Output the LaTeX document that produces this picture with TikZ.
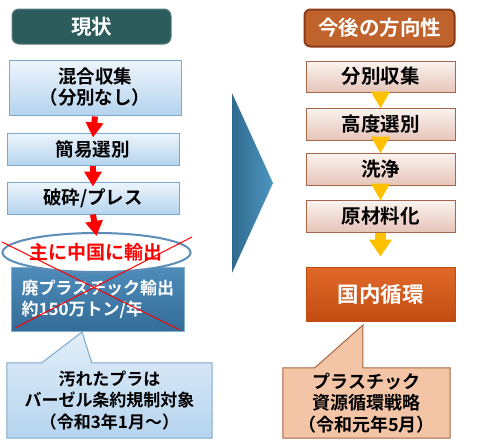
\documentclass[tikz,border=0pt]{standalone}
\usepackage{fontspec}
\setmainfont{Noto Sans CJK JP}
\newfontfamily\bcjk{Noto Sans CJK JP Bold}
\usetikzlibrary{shapes.geometric,arrows.meta,calc,backgrounds}
\definecolor{teal1}{HTML}{2D5C5C}
\definecolor{lbtop}{HTML}{EEF5FC}
\definecolor{lbbot}{HTML}{B5D4EE}
\definecolor{lbbord}{HTML}{7DA8CE}
\definecolor{sbtop}{HTML}{4F8CBA}
\definecolor{sbbot}{HTML}{336C98}
\definecolor{elbord}{HTML}{5B8DB6}
\definecolor{chevL}{HTML}{2F6A8E}
\definecolor{chevR}{HTML}{4E96C2}
\definecolor{ortitle}{HTML}{C0622B}
\definecolor{orbord}{HTML}{8B3B19}
\definecolor{pktop}{HTML}{FBF3F0}
\definecolor{pkbot}{HTML}{E6C5B8}
\definecolor{pkbord}{HTML}{A5664C}
\definecolor{gold}{HTML}{FFC000}
\definecolor{dctop}{HTML}{E0692A}
\definecolor{dcbot}{HTML}{C24C12}
\definecolor{peach}{HTML}{F4C4A6}
\definecolor{peachbord}{HTML}{A8643E}
\definecolor{redc}{HTML}{FF0000}
\tikzset{
  txt/.style={font=\fontsize{18.5}{21}\selectfont\bcjk, align=center, inner sep=0pt},
  ttl/.style={txt, font=\fontsize{20.5}{22}\selectfont\bcjk, text=white, rounded corners=7pt},
  bluebox/.style={txt, draw=lbbord, line width=1pt, top color=lbtop, bottom color=lbbot},
  pinkbox/.style={txt, font=\fontsize{19.5}{22}\selectfont\bcjk, draw=pkbord, line width=1pt, top color=pktop, bottom color=pkbot},
  redarrow/.style={redc, line width=6pt, -{Triangle[width=17pt,length=15pt]}},
  goldarrow/.style={gold, line width=8pt, -{Triangle[width=18pt,length=17pt]}},
}
\begin{document}
\begin{tikzpicture}[x=1pt,y=-1pt]
\useasboundingbox (0,0) rectangle (480,447);
% titles
\node[ttl, fill=teal1, draw=teal1!80!white, line width=1pt, minimum width=159pt, minimum height=35pt] (lt) at (91.5,26.5) {現状};
\node[ttl, fill=ortitle, draw=orbord, line width=2pt, minimum width=150pt, minimum height=37pt, rounded corners=6pt] (rt) at (379.5,28) {今後の方向性};
% left flow
\node[bluebox, minimum width=172pt, minimum height=55pt] (b1) at (95,87.5) {混合収集\\（分別なし）};
\node[bluebox, minimum width=172pt, minimum height=32pt] (b2) at (93,149) {簡易選別};
\node[bluebox, minimum width=172pt, minimum height=32pt] (b3) at (93,198) {破砕/プレス};
\node[txt, font=\fontsize{17}{21}\selectfont\bcjk, text=white, align=left, draw=sbtop!70!white, line width=0.8pt, top color=sbtop, bottom color=sbbot, minimum width=173pt, minimum height=64pt, text width=152pt] (ex) at (97.5,299) {廃プラスチック輸出\\約150万トン/年};
\node[ellipse, txt, font=\fontsize{19}{21}\selectfont\bcjk, text=redc, draw=elbord, line width=2pt, fill=white, minimum width=177pt, minimum height=39pt] (el) at (96.5,252.5) {主に中国に輸出};
\draw[redarrow] ([yshift=-1pt]b1.south) -- ([yshift=-5pt]b2.north);
\draw[redarrow] (b2.south) -- ([yshift=-5pt]b3.north);
\draw[redarrow] (b3.south) -- ([yshift=-4pt]el.north);
% red cross
\coordinate (xa) at (2,242);
\coordinate (xb) at (180,330);
\coordinate (xc) at (192,237);
\coordinate (xd) at (15,328);
\draw[redc, line width=1pt] (xa) -- (xb);
\draw[redc, line width=1pt] (xc) -- (xd);
% left callout
\node[txt, font=\fontsize{17}{21.5}\selectfont\bcjk, minimum width=205pt, minimum height=75pt] (lc) at (109.5,400.5) {汚れたプラは\\バーゼル条約規制対象\\（令和3年1月～）};
\coordinate (lctip) at (82,332);
\begin{scope}[on background layer]
\draw[draw=lbbord, line width=1pt, top color=lbtop!80!lbbot, bottom color=lbbot] (lc.north west) -- ($(lc.north west)+(35,0)$) -- (lctip) -- ($(lc.north west)+(85,0)$) -- (lc.north east) -- (lc.south east) -- (lc.south west) -- cycle;
\end{scope}
% chevron
\path[left color=chevL, right color=chevR] (232,93) -- (273,183) -- (232,273) -- cycle;
% right flow
\node[pinkbox, minimum width=149pt, minimum height=31pt] (r1) at (380.5,76.5) {分別収集};
\node[pinkbox, minimum width=149pt, minimum height=32pt] (r2) at (380.5,124) {高度選別};
\node[pinkbox, minimum width=149pt, minimum height=32pt] (r3) at (380.5,169) {洗浄};
\node[pinkbox, minimum width=149pt, minimum height=32pt] (r4) at (380.5,216) {原材料化};
\node[txt, font=\fontsize{21.5}{24}\selectfont\bcjk, text=white, draw=dcbot, line width=1pt, top color=dctop, bottom color=dcbot, minimum width=149pt, minimum height=54pt] (r5) at (380.5,294) {国内循環};
\draw[goldarrow] (r1.south) -- ([yshift=-1pt]r2.north);
\draw[goldarrow] (r2.south) -- ([yshift=-1pt]r3.north);
\draw[goldarrow] (r3.south) -- ([yshift=-1pt]r4.north);
\draw[gold, line width=11pt, -{Triangle[width=22pt,length=17pt]}] (r4.south) -- ([yshift=10pt]r5.north);
% right callout
\node[txt, font=\fontsize{18}{21.5}\selectfont\bcjk, minimum width=167pt, minimum height=70pt] (rc) at (366.5,403) {プラスチック\\資源循環戦略\\（令和元年5月）};
\coordinate (rctip) at (363,325);
\begin{scope}[on background layer]
\draw[draw=peachbord, line width=1pt, fill=peach] (rc.north west) -- ($(rc.north west)+(32,0)$) -- (rctip) -- ($(rc.north west)+(80,0)$) -- (rc.north east) -- (rc.south east) -- (rc.south west) -- cycle;
\end{scope}
\end{tikzpicture}
\end{document}
